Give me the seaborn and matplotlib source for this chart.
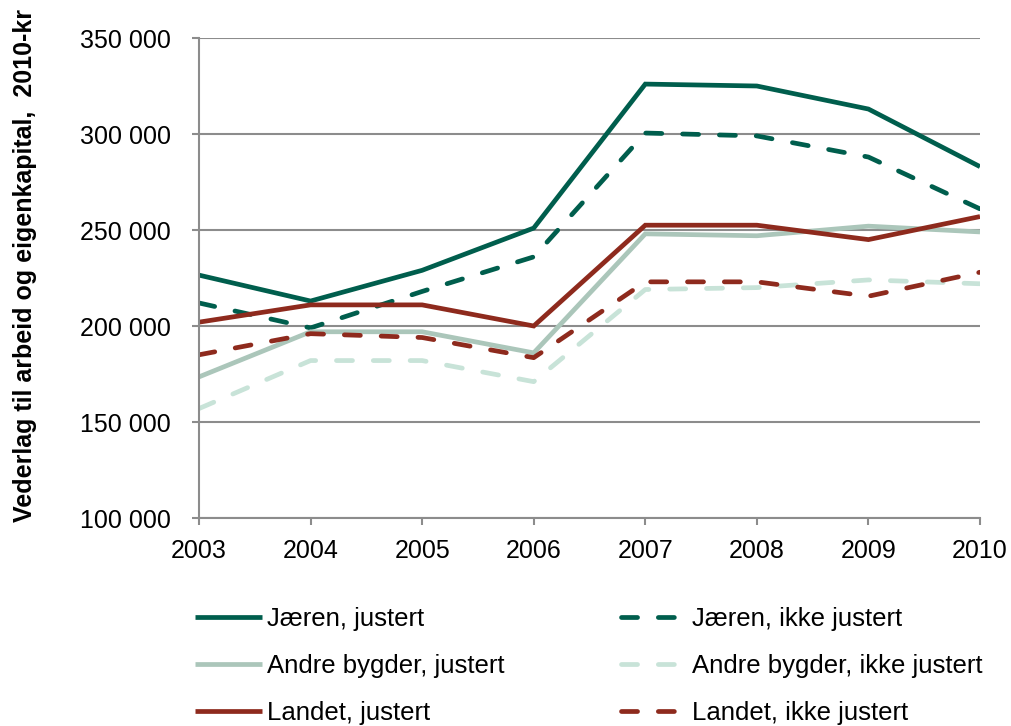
import matplotlib
matplotlib.use("Agg")
import matplotlib.pyplot as plt
from matplotlib.ticker import FuncFormatter
import seaborn as sns
import pandas as pd

years = [2003, 2004, 2005, 2006, 2007, 2008, 2009, 2010]
jaeren_just = [226500, 213000, 229000, 251000, 326000, 325000, 313000, 283000]
jaeren_ikke = [212000, 199000, 218000, 236000, 300500, 299000, 288000, 261000]
andre_just = [173500, 197000, 197000, 186000, 248000, 247000, 252000, 249000]
andre_ikke = [157000, 182000, 182000, 171000, 219000, 220000, 224000, 222000]
landet_just = [202000, 211000, 211000, 200000, 252500, 252500, 245000, 257000]
landet_ikke = [185000, 196000, 194000, 183500, 223000, 223000, 215500, 228000]

labels = ["Jæren, justert", "Andre bygder, justert", "Landet, justert",
          "Jæren, ikke justert", "Andre bygder, ikke justert", "Landet, ikke justert"]
series = [jaeren_just, andre_just, landet_just, jaeren_ikke, andre_ikke, landet_ikke]
colors = ["#005E4D", "#ABC6BA", "#8E2A1D", "#005E4D", "#C8E3D8", "#8E2A1D"]
dashed = [False, False, False, True, True, True]

sns.set_theme(style="white")
plt.rcParams['font.family'] = ['Liberation Sans', 'DejaVu Sans']
plt.rcParams['text.color'] = 'black'
plt.rcParams['axes.labelcolor'] = 'black'

fig = plt.figure(figsize=(10.12, 7.26), dpi=100)
ax = fig.add_axes([199 / 1012, 1 - 518 / 726, (980 - 199) / 1012, (518 - 38) / 726])

draw_order = [0, 3, 1, 4, 2, 5]
handles = {}
for i in draw_order:
    df = pd.DataFrame({"year": years, "value": series[i]})
    sns.lineplot(data=df, x="year", y="value", ax=ax, color=colors[i], linewidth=3.4,
                 label=labels[i], legend=False)
    line = ax.lines[-1]
    if dashed[i]:
        line.set_dashes((3.4, 4.4))
        line.set_dash_capstyle("round")
    else:
        line.set_solid_capstyle("butt")
    line.set_solid_joinstyle("miter")
    handles[i] = line

ax.set_xlim(2003, 2010)
ax.set_ylim(100000, 350000)
ax.set_xticks(years)
ax.set_yticks([100000, 150000, 200000, 250000, 300000, 350000])
ax.yaxis.set_major_formatter(FuncFormatter(lambda v, p: f"{int(v):,}".replace(",", " ")))
ax.grid(axis="y", color="#8C8C8C", linewidth=1.5)
ax.grid(axis="x", visible=False)
ax.set_axisbelow(True)
for s in ["top", "right"]:
    ax.spines[s].set_visible(False)
for s in ["left", "bottom"]:
    ax.spines[s].set_color("#8C8C8C")
    ax.spines[s].set_linewidth(1.5)
ax.tick_params(axis="both", which="major", direction="out", length=5, width=1.5,
               color="#8C8C8C", labelsize=18, labelcolor="black",
               left=True, bottom=True)
ax.tick_params(axis="x", pad=10)
ax.tick_params(axis="y", pad=15)
ax.set_xlabel("")
ax.set_ylabel("Vederlag til arbeid og eigenkapital,  2010-kr", fontsize=18,
              fontweight="bold", color="black")
ax.yaxis.set_label_coords(-0.208, 0.525)

leg = fig.legend([handles[i] for i in range(6)], labels, ncol=2, frameon=False,
                 loc="upper left", bbox_to_anchor=(172 / 1012, 1 - 584 / 726),
                 fontsize=18.5, handlelength=2.6, handletextpad=0.18,
                 columnspacing=4.55, labelspacing=0.9, labelcolor="black")

fig.savefig("out.png", dpi=100)
